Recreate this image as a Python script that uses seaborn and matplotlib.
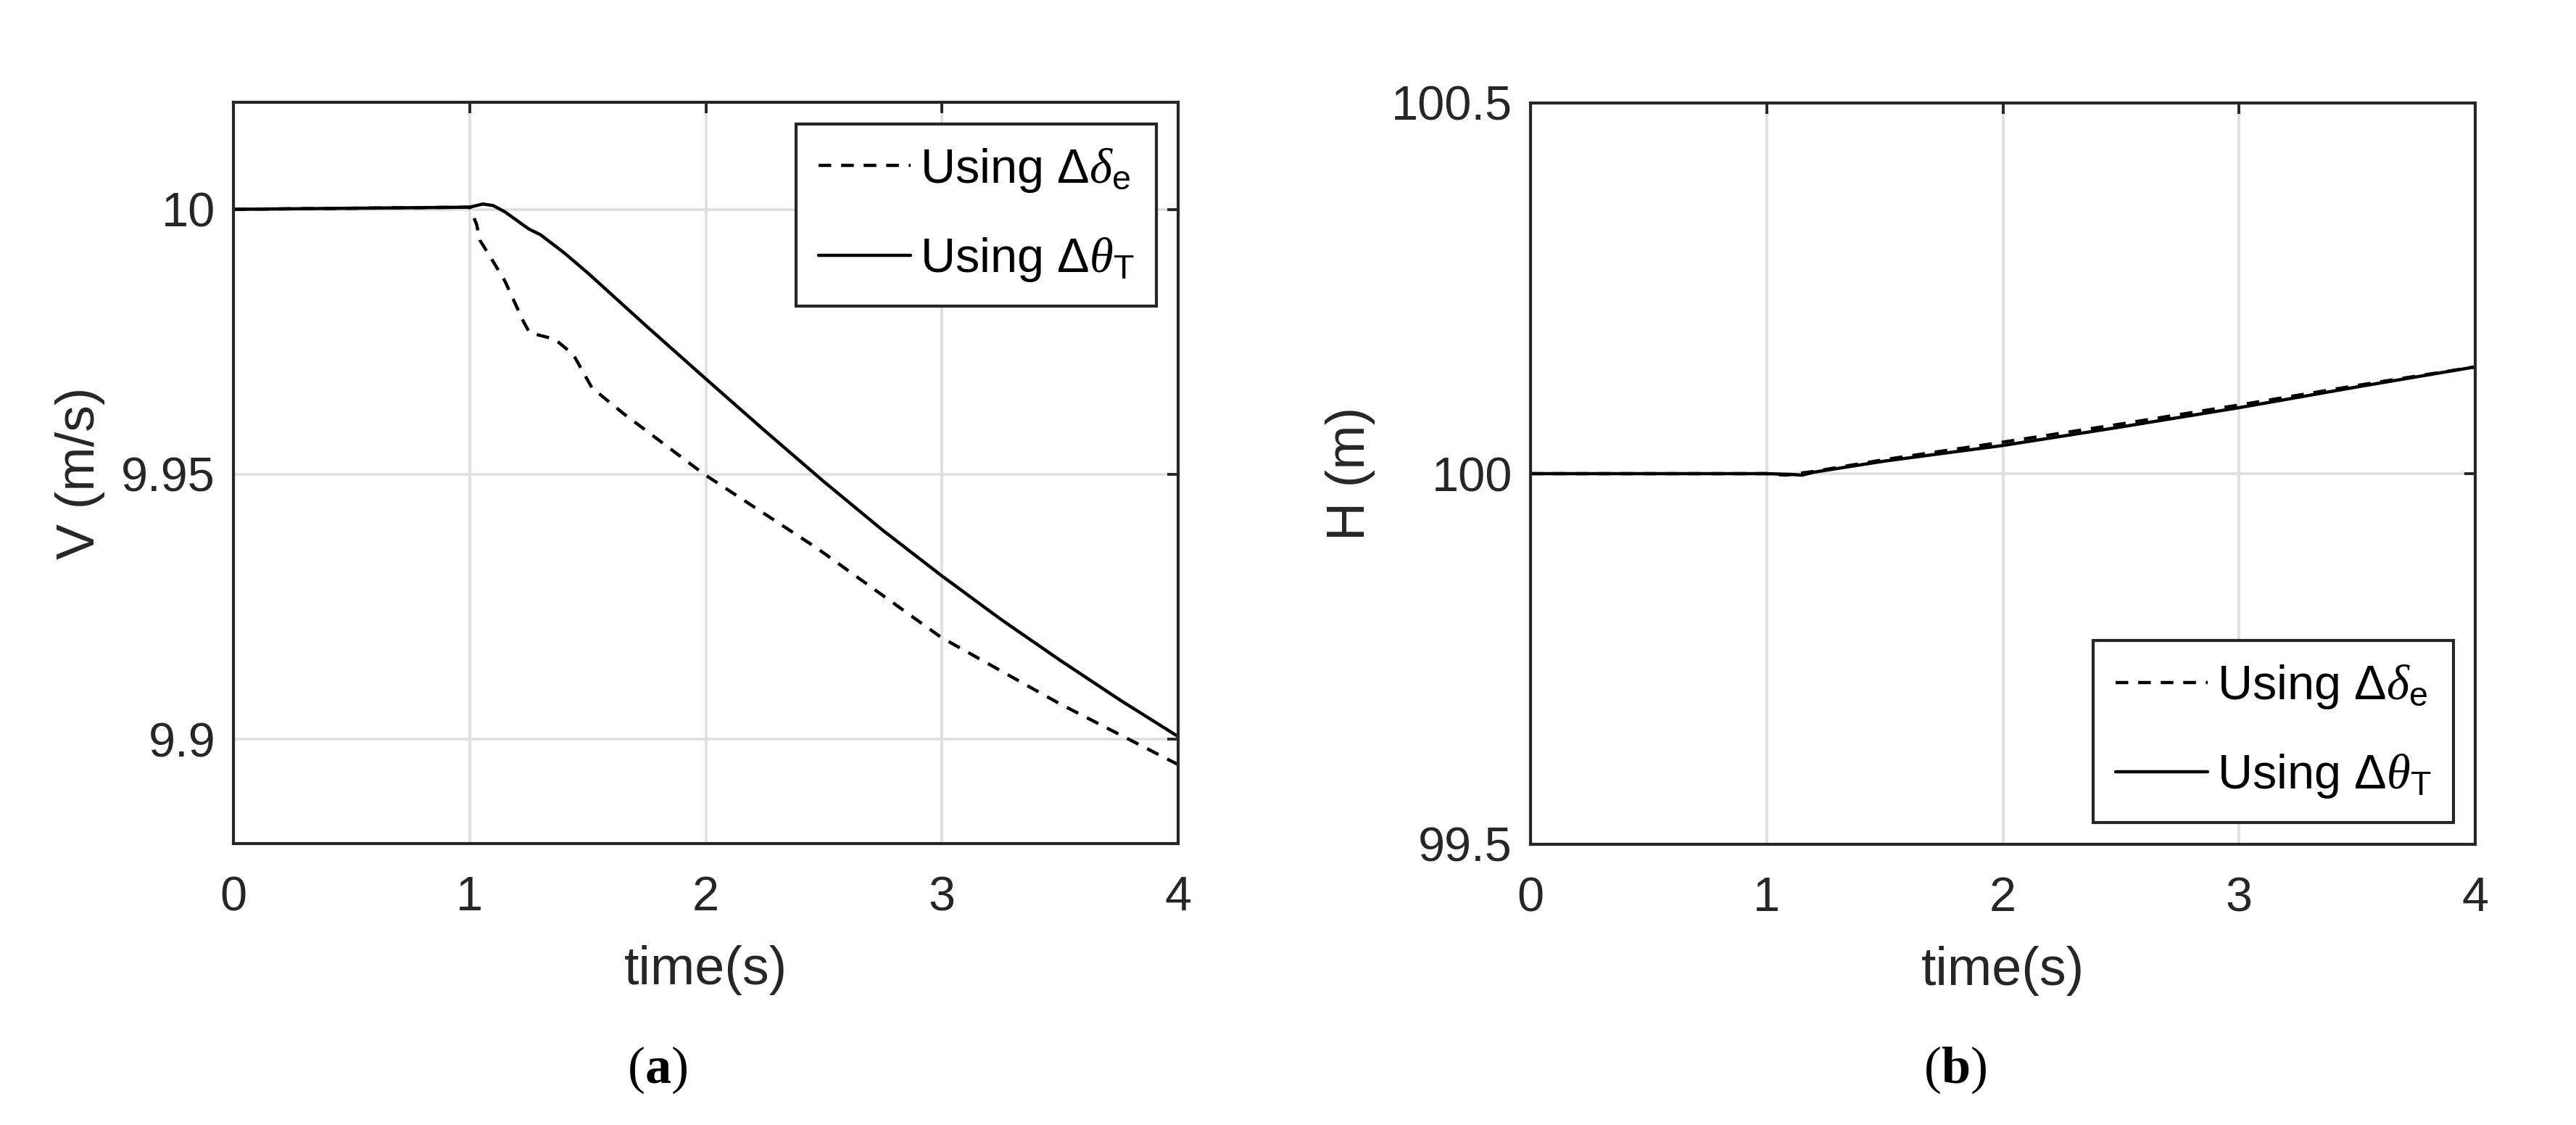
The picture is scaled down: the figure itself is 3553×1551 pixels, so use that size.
import matplotlib
matplotlib.use("Agg")
import matplotlib.pyplot as plt
import seaborn as sns
import pandas as pd

###--- Data
# (a) speed V (m/s)
t_V_de = [0.0, 0.5, 1.0, 1.03, 1.043, 1.096, 1.149, 1.228, 1.254, 1.36, 1.439, 1.518,
          1.65, 1.993, 2.469, 2.997, 3.498, 4.0]
V_de = [10.0, 10.0002, 10.0004, 9.9971, 9.9942, 9.9904, 9.9865, 9.9788, 9.9767, 9.9755,
        9.9726, 9.9663, 9.9615, 9.9500, 9.9361, 9.9192, 9.9067, 9.8952]
t_V_th = [0.0, 0.5, 1.0, 1.056, 1.10, 1.15, 1.25, 1.30, 1.40, 1.50, 1.75, 2.0, 2.25,
          2.5, 2.75, 3.0, 3.25, 3.5, 3.75, 4.0]
V_th = [10.0, 10.0002, 10.0004, 10.0010, 10.0007, 9.9995, 9.9963, 9.9952, 9.9918, 9.9880,
        9.9779, 9.9680, 9.9582, 9.9486, 9.9394, 9.9308, 9.9226, 9.9149, 9.9075, 9.9005]

# (b) altitude H (m)
t_H_de = [0.0, 1.0, 1.08, 1.2, 1.5, 2.0, 2.5, 3.0, 3.5, 4.0]
H_de = [100.0, 100.0, 99.998, 100.003, 100.019, 100.0425, 100.067, 100.0926, 100.119, 100.144]
t_H_th = [0.0, 1.0, 1.1, 1.15, 1.2, 1.5, 2.0, 2.5, 3.0, 3.5, 4.0]
H_th = [100.0, 100.0, 99.999, 99.998, 100.002, 100.017, 100.038, 100.063, 100.089, 100.117, 100.144]

x_ticks = [0, 1, 2, 3, 4]
V_ticks = [9.9, 9.95, 10.0]
V_ticklabels = ["9.9", "9.95", "10"]
H_ticks = [99.5, 100.0, 100.5]
H_ticklabels = ["99.5", "100", "100.5"]

label_de = r"Using $\Delta\delta_{\mathrm{e}}$"
label_th = r"Using $\Delta\theta_{\mathrm{T}}$"

###--- Style
sns.set_theme(style="white")
dark = "#262626"
plt.rcParams["font.family"] = ["Liberation Sans", "DejaVu Sans"]
plt.rcParams["mathtext.fontset"] = "custom"
plt.rcParams["mathtext.rm"] = "Liberation Sans"
plt.rcParams["mathtext.it"] = "Liberation Serif:italic"
plt.rcParams["mathtext.bf"] = "Liberation Serif:bold"
plt.rcParams["lines.scale_dashes"] = False

W, H = 3553, 1551
fig = plt.figure(figsize=(W / 200, H / 200), dpi=200)
ax_a = fig.add_axes([322 / W, 1 - 1163 / H, 1303 / W, 1022 / H])
ax_b = fig.add_axes([2111 / W, 1 - 1164 / H, 1303 / W, 1022 / H])


def draw(ax, t1, y1, t2, y2):
    df1 = pd.DataFrame({"t": t1, "y": y1})
    df2 = pd.DataFrame({"t": t2, "y": y2})
    sns.lineplot(data=df1, x="t", y="y", ax=ax, color="black", lw=1.6,
                 label=label_de, estimator=None, sort=False)
    ax.lines[-1].set_dashes((6.3, 4.9))
    sns.lineplot(data=df2, x="t", y="y", ax=ax, color="black", lw=1.6,
                 label=label_th, estimator=None, sort=False)


draw(ax_a, t_V_de, V_de, t_V_th, V_th)
draw(ax_b, t_H_de, H_de, t_H_th, H_th)

###--- Axes formatting
for ax in (ax_a, ax_b):
    ax.set_xlim(0, 4)
    ax.set_xticks(x_ticks)
    ax.set_xticklabels([str(v) for v in x_ticks])
    ax.set_axisbelow(True)
    ax.grid(True, color="#dedede", lw=1.3)
    ax.tick_params(which="both", direction="in", top=True, right=True,
                   length=5.5, width=1.4, color=dark, labelcolor=dark,
                   labelsize=24)
    ax.tick_params(axis="x", pad=16)
    ax.tick_params(axis="y", pad=9)
    for s in ax.spines.values():
        s.set_color(dark)
        s.set_linewidth(1.5)
    ax.set_xlabel("time(s)", fontsize=26.5, color=dark, labelpad=12)

ax_a.set_ylim(9.8803, 10.0202)
ax_a.set_yticks(V_ticks)
ax_a.set_yticklabels(V_ticklabels)
ax_a.set_ylabel("V (m/s)", fontsize=26.5, color=dark, labelpad=8)

ax_b.set_ylim(99.5, 100.5)
ax_b.set_yticks(H_ticks)
ax_b.set_yticklabels(H_ticklabels)
ax_b.set_ylabel("H (m)", fontsize=26.5, color=dark, labelpad=8)

###--- Legends
for ax, loc in ((ax_a, "upper right"), (ax_b, "lower right")):
    leg = ax.legend(loc=loc, fontsize=24, frameon=True, fancybox=False,
                    edgecolor=dark, framealpha=1, handlelength=1.9,
                    handletextpad=0.2, borderpad=0.46, labelspacing=0.86,
                    borderaxespad=0.45)
    leg.get_frame().set_linewidth(1.5)
    for txt in leg.get_texts():
        txt.set_color("black")

###--- Sub-figure captions
fig.text(907 / W, 1 - 1475 / H, r"($\mathbf{a}$)", ha="center", va="center",
         fontsize=26, family="Liberation Serif", color="black")
fig.text(2697 / W, 1 - 1475 / H, r"($\mathbf{b}$)", ha="center", va="center",
         fontsize=26, family="Liberation Serif", color="black")

fig.savefig("out.png", dpi=200)
